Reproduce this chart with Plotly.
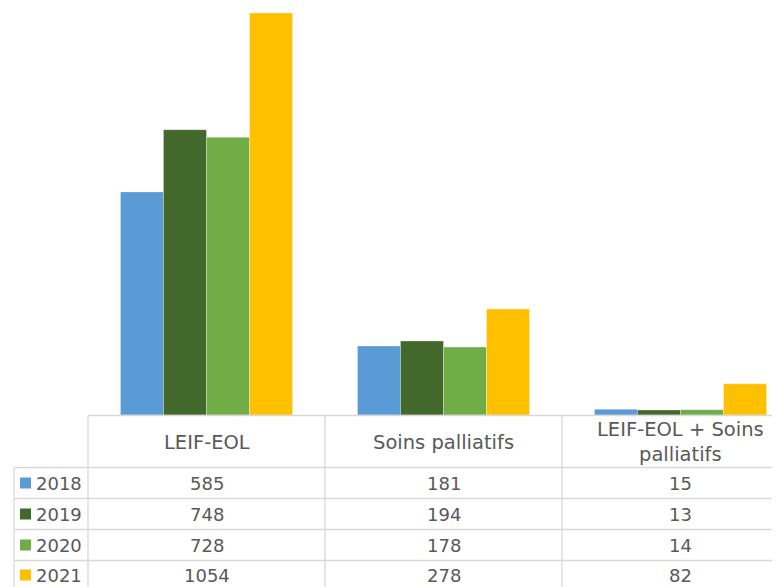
import plotly.graph_objects as go

categories = ["LEIF-EOL", "Soins palliatifs", "LEIF-EOL + Soins<br>palliatifs"]
years = ["2018", "2019", "2020", "2021"]
v2018 = [585, 181, 15]
v2019 = [748, 194, 13]
v2020 = [728, 178, 14]
v2021 = [1054, 278, 82]
series = [v2018, v2019, v2020, v2021]
colors = ["#5B9BD5", "#43682B", "#70AD47", "#FFC000"]

OFF = 8  # page body margin
W, H = 780 - OFF, 587 - OFF
# plot area in reference-pixel coordinates
L, R, T, B = 88, 780, OFF, 415
grid = "#D9D9D9"
txt = "#595959"
FONT = "DejaVu Sans"
FS_HEAD = 19.5
FS_NUM = 18
ppu = 402 / 1054  # pixels per unit from reference

def py(p):  # reference pixel y -> paper
    return (B - p) / (B - T)

def px(p):  # reference pixel x -> paper
    return (p - L) / (R - L)

fig = go.Figure()
xs = [0, 1, 2]
for y, vals, c in zip(years, series, colors):
    fig.add_trace(go.Bar(x=xs, y=vals, name=y, marker_color=c,
                         marker_line=dict(color="rgba(255,255,255,0.6)", width=0.5)))

shapes = []
def line(x0, y0, x1, y1):
    shapes.append(dict(type="line", xref="paper", yref="paper",
                       x0=px(x0), y0=py(y0), x1=px(x1), y1=py(y1),
                       line=dict(color=grid, width=1.3)))

cat_w = 237
# horizontal lines
line(88, 415.5, 800, 415.5)
for yy in [467.5, 498.5, 529.5, 560.5]:
    line(14, yy, 800, yy)
# vertical lines
line(88, 415.5, 88, 600)
line(14, 467.5, 14, 600)
for k in [1, 2]:
    xv = L + cat_w * k
    line(xv, 415.5, xv, 600)

annotations = []
for i, cat in enumerate(categories):
    annotations.append(dict(x=i, y=py(442), xref="x", yref="paper", text=cat,
                            showarrow=False, font=dict(size=FS_HEAD, color=txt, family=FONT),
                            xanchor="center", yanchor="middle"))
row_y = [483, 514, 545, 575]
for r, (y, vals, c) in enumerate(zip(years, series, colors)):
    shapes.append(dict(type="rect", xref="paper", yref="paper",
                       x0=px(20), x1=px(31), y0=py(row_y[r] - 5.5), y1=py(row_y[r] + 5.5),
                       fillcolor=c, line=dict(width=0)))
    annotations.append(dict(x=px(34), y=py(row_y[r]), xref="paper", yref="paper", text=y,
                            showarrow=False, font=dict(size=FS_NUM, color=txt, family=FONT),
                            xanchor="left", yanchor="middle"))
    for i, v in enumerate(vals):
        annotations.append(dict(x=i, y=py(row_y[r]), xref="x", yref="paper", text=str(v),
                                showarrow=False, font=dict(size=FS_NUM, color=txt, family=FONT),
                                xanchor="center", yanchor="middle"))

x_right = -0.5 + (R - L) / cat_w
fig.update_layout(
    width=W, height=H,
    margin=dict(l=L - OFF, r=0, t=T - OFF, b=587 - B),
    paper_bgcolor="white", plot_bgcolor="white",
    barmode="group", bargap=0.274, bargroupgap=0,
    showlegend=False,
    xaxis=dict(range=[-0.5, x_right], showticklabels=False, showgrid=False,
               zeroline=False, showline=False, fixedrange=True),
    yaxis=dict(range=[0, (B - T) / ppu], showticklabels=False, showgrid=False,
               zeroline=False, showline=False, fixedrange=True),
    shapes=shapes, annotations=annotations,
    font=dict(family=FONT, color=txt),
)

fig.write_html("out.html")
